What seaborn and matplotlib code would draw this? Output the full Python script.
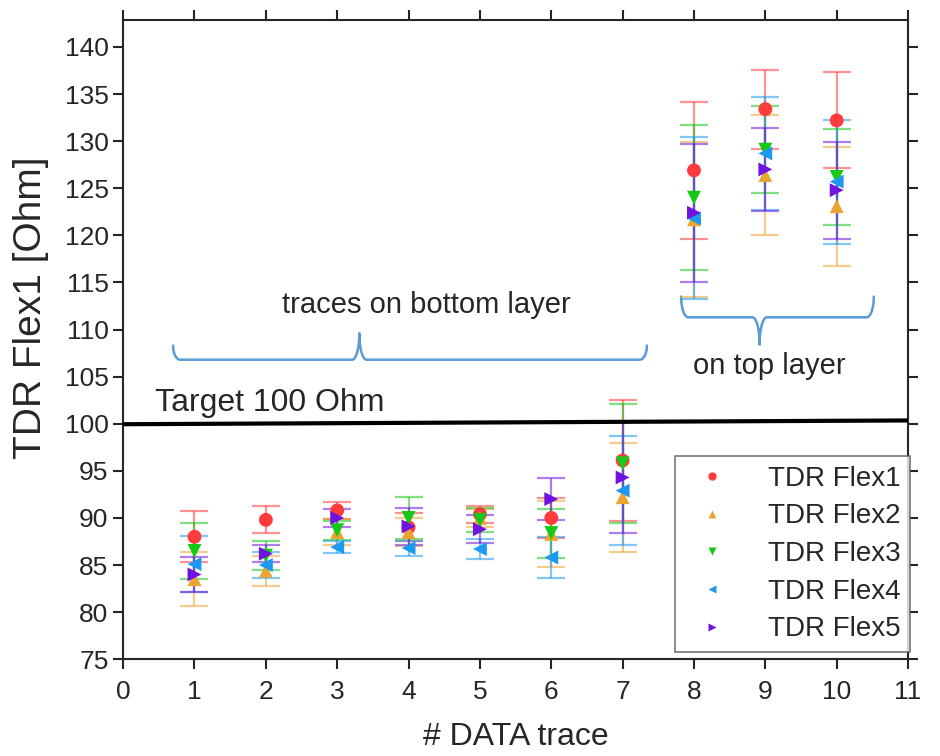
import numpy as np
import pandas as pd
import matplotlib
matplotlib.use("Agg")
import matplotlib.pyplot as plt
import seaborn as sns

# -------- DATA --------
traces = [1, 2, 3, 4, 5, 6, 7, 8, 9, 10]
series = ["TDR Flex1", "TDR Flex2", "TDR Flex3", "TDR Flex4", "TDR Flex5"]

flex1 = [88.0, 89.8, 90.8, 89.0, 90.4, 90.0, 96.1, 126.9, 133.4, 132.2]
flex1_err = [2.7, 1.45, 0.9, 1.5, 0.9, 2.1, 6.4, 7.3, 4.2, 5.1]
flex2 = [83.5, 84.4, 88.5, 88.5, 90.0, 88.3, 92.2, 121.7, 126.4, 123.1]
flex2_err = [2.9, 1.6, 1.4, 1.5, 1.0, 3.5, 5.8, 8.2, 6.4, 6.3]
flex3 = [86.5, 86.0, 88.7, 90.0, 89.8, 88.4, 95.8, 124.0, 129.1, 126.2]
flex3_err = [3.0, 1.5, 1.0, 2.2, 1.3, 2.6, 6.3, 7.7, 4.6, 5.1]
flex4 = [85.1, 85.0, 86.9, 86.8, 86.7, 85.8, 92.9, 121.8, 128.7, 125.7]
flex4_err = [3.0, 1.4, 0.6, 0.8, 1.1, 2.2, 5.8, 8.6, 6.0, 6.6]
flex5 = [84.0, 86.2, 90.0, 89.1, 88.8, 92.0, 94.3, 122.4, 127.0, 124.8]
flex5_err = [1.9, 0.9, 1.0, 2.0, 1.5, 2.2, 5.9, 7.3, 4.45, 5.15]

target = 100

means = [flex1, flex2, flex3, flex4, flex5]
errs = [flex1_err, flex2_err, flex3_err, flex4_err, flex5_err]

df = pd.DataFrame({
    "trace": traces * len(series),
    "value": sum(means, []),
    "err": sum(errs, []),
    "series": np.repeat(series, len(traces)),
})

colors = {"TDR Flex1": "#ff3b3b", "TDR Flex2": "#e8a532", "TDR Flex3": "#16c916",
          "TDR Flex4": "#1c9af0", "TDR Flex5": "#7012e0"}
markers = {"TDR Flex1": "o", "TDR Flex2": "^", "TDR Flex3": "v",
           "TDR Flex4": "<", "TDR Flex5": ">"}

# -------- STYLE --------
sns.set_style("ticks")
plt.rcParams["font.family"] = ["Liberation Sans", "DejaVu Sans"]

fig = plt.figure(figsize=(9.4, 7.56), dpi=100)
ax = fig.add_axes([0.131, 0.128, 0.835, 0.846])

# error bars first
for name in series:
    sub = df[df["series"] == name]
    ax.errorbar(sub["trace"], sub["value"], yerr=sub["err"], fmt="none",
                ecolor=colors[name], alpha=0.55, elinewidth=1.6,
                capsize=10, capthick=1.6, zorder=2)

sns.scatterplot(data=df, x="trace", y="value", hue="series", style="series",
                palette=colors, markers=markers, s=100, edgecolor="none",
                ax=ax, zorder=3)

# target line
ax.plot([0, 11], [target - 0.05, target + 0.35], color="black", lw=3, zorder=4)
ax.text(0.45, target + 0.6, "Target 100 Ohm", fontsize=23, ha="left", va="bottom")


# -------- BRACES --------
def brace(ax, x0, x1, xm, ybase, yend, ytip, color="#5b9bd5"):
    # curly bracket: ends curl from yend to ybase, tip from ybase to ytip at xm
    r = 0.1
    q = np.linspace(0, 1, 30) * np.pi / 2
    xs = list(x0 + r * (1 - np.cos(q))) + [xm - r]
    ys = list(yend + (ybase - yend) * np.sin(q)) + [ybase]
    xs += list(xm - r + r * np.sin(q))
    ys += list(ybase + (ytip - ybase) * (1 - np.cos(q)))
    xs += list(xm + r - r * np.sin(q[::-1]))
    ys += list(ybase + (ytip - ybase) * (1 - np.cos(q[::-1])))
    xs += [x1 - r] + list(x1 - r * (1 - np.cos(q[::-1])))
    ys += [ybase] + list(yend + (ybase - yend) * np.sin(q[::-1]))
    ax.plot(xs, ys, color=color, lw=1.8, clip_on=False, zorder=1)


brace(ax, 0.70, 7.34, 3.31, 106.8, 108.3, 109.6)
ax.text(4.25, 112.6, "traces on bottom layer", fontsize=21, ha="center", va="center")
brace(ax, 7.82, 10.52, 8.92, 111.3, 113.5, 108.4)
ax.text(9.06, 106.1, "on top layer", fontsize=21, ha="center", va="center")

# -------- AXES --------
ax.set_xlim(0, 11)
ax.set_ylim(75, 142.9)
ax.set_xticks(range(0, 12))
ax.set_yticks(range(75, 141, 5))
ax.tick_params(axis="both", which="major", direction="out", length=7, width=1.5,
               labelsize=19, top=True, right=True, labeltop=False, labelright=False)
ax.tick_params(axis="x", pad=8)
for sp in ax.spines.values():
    sp.set_linewidth(1.5)
ax.set_xlabel("# DATA trace", fontsize=23)
ax.xaxis.set_label_coords(0.5, -0.098)
ax.set_ylabel("TDR Flex1 [Ohm]", fontsize=28)
ax.yaxis.set_label_coords(-0.094, 0.55)

leg = ax.legend(loc="lower right", fontsize=20, frameon=True, fancybox=False,
                edgecolor="#555555", markerscale=0.6, borderpad=0.35,
                handletextpad=1.0, labelspacing=0.42, borderaxespad=0,
                bbox_to_anchor=(1.003, 0.011))
leg.get_frame().set_linewidth(1.2)

fig.savefig("out.png", dpi=100)
